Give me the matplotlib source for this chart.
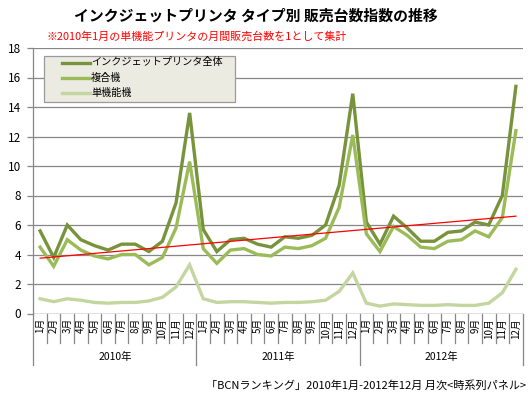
import matplotlib
matplotlib.use("Agg")
import matplotlib.pyplot as plt
import matplotlib.transforms as mtransforms
from matplotlib.patches import Rectangle
from matplotlib.lines import Line2D
import numpy as np

plt.rcParams['font.family'] = ['Noto Sans CJK JP', 'DejaVu Sans']

years = ["2010年", "2011年", "2012年"]
months = [f"{m}月" for m in range(1, 13)]
month_labels = months * 3

total = [5.6, 3.8, 6.0, 5.0, 4.6, 4.3, 4.7, 4.7, 4.2, 4.9, 7.5, 13.6,
         5.7, 4.2, 5.0, 5.1, 4.7, 4.5, 5.2, 5.1, 5.3, 6.0, 8.7, 14.9,
         6.2, 4.7, 6.6, 5.8, 4.9, 4.9, 5.5, 5.6, 6.2, 6.0, 8.0, 15.4]
multi = [4.5, 3.2, 5.0, 4.3, 3.9, 3.7, 4.0, 4.0, 3.3, 3.8, 5.8, 10.3,
         4.4, 3.4, 4.3, 4.4, 4.0, 3.9, 4.5, 4.4, 4.6, 5.1, 7.2, 12.1,
         5.4, 4.2, 5.9, 5.3, 4.5, 4.4, 4.9, 5.0, 5.6, 5.2, 6.5, 12.4]
single = [1.0, 0.8, 1.0, 0.9, 0.75, 0.7, 0.75, 0.75, 0.85, 1.1, 1.8, 3.3,
          1.0, 0.75, 0.8, 0.8, 0.75, 0.7, 0.75, 0.75, 0.8, 0.9, 1.5, 2.75,
          0.7, 0.5, 0.65, 0.6, 0.55, 0.55, 0.6, 0.55, 0.55, 0.7, 1.4, 3.0]
trend_x = [0, 35]
trend_y = [3.75, 6.6]

series_names = ["インクジェットプリンタ全体", "複合機", "単機能機"]
colors = ["#77933C", "#9BBB59", "#C4D6A0"]

W, H = 530, 398
fig = plt.figure(figsize=(W / 100, H / 100), dpi=100)

def fx(x):
    return x / W

def fy(y):
    return 1 - y / H

left, right, top, bottom = 33.3, 522.7, 48, 313.5
ax = fig.add_axes([fx(left), fy(bottom), fx(right) - fx(left), fy(top) - fy(bottom)])

x = np.arange(len(total))
for vals, c in zip([total, multi, single], colors):
    ax.plot(x, vals, color=c, lw=2.4, solid_joinstyle='miter', zorder=3)
ax.plot(trend_x, trend_y, color="#FF0000", lw=0.9, zorder=4)

ax.set_xlim(-0.5, len(total) - 0.5)
ax.set_ylim(0, 18)
ax.set_yticks(range(0, 19, 2))
ax.yaxis.grid(True, color="#878787", lw=0.9)
ax.set_axisbelow(True)
for s in ["top", "right", "bottom"]:
    ax.spines[s].set_visible(False)
ax.spines["left"].set_color("#878787")
ax.spines["left"].set_linewidth(0.9)
ax.tick_params(axis='y', length=4, color="#878787", width=0.9, labelsize=8.5, pad=5)
ax.set_xticks([])

# bottom axis line
ax.axhline(0, color="#878787", lw=0.9, zorder=2)

# category separators
trans = mtransforms.blended_transform_factory(ax.transData, fig.transFigure)
for i in range(len(total) + 1):
    xb = i - 0.5
    if i % 12 == 0:
        y2 = 365
    else:
        y2 = 343
    ax.add_line(Line2D([xb, xb], [fy(bottom), fy(y2)], transform=trans,
                       color="#878787", lw=0.9, clip_on=False))

for i, lab in enumerate(month_labels):
    ax.text(i, fy(318), lab, transform=trans, rotation=90, ha='center', va='top',
            fontsize=7, color="#000000")

for k, yr in enumerate(years):
    ax.text(12 * k + 5.5, fy(357), yr, transform=trans, ha='center', va='center',
            fontsize=7.5)

# legend box
lx0, ly0, lx1, ly1 = 44, 56, 235, 101.5
fig.patches.append(Rectangle((fx(lx0), fy(ly1)), fx(lx1) - fx(lx0), fy(ly0) - fy(ly1),
                             transform=fig.transFigure, facecolor="#EBEBE1",
                             edgecolor="#9A9A9A", lw=0.9, zorder=5))
for j, (name, c) in enumerate(zip(series_names, colors)):
    yy = 62.5 + 15 * j
    fig.add_artist(Line2D([fx(62), fx(90)], [fy(yy), fy(yy)], transform=fig.transFigure,
                          color=c, lw=2.4, zorder=6))
    fig.text(fx(91), fy(yy), name, ha='left', va='center', fontsize=7.3, zorder=6)

# titles
fig.text(fx(256), fy(16), "インクジェットプリンタ タイプ別 販売台数指数の推移",
         ha='center', va='center', fontsize=10.7, fontweight='bold')
fig.text(fx(47), fy(37), "※2010年1月の単機能プリンタの月間販売台数を1として集計",
         ha='left', va='center', fontsize=7.9, color="#FF0000")
fig.text(fx(526), fy(385), "「BCNランキング」2010年1月-2012年12月 月次<時系列パネル>",
         ha='right', va='center', fontsize=8)

fig.savefig("out.png", dpi=100)
